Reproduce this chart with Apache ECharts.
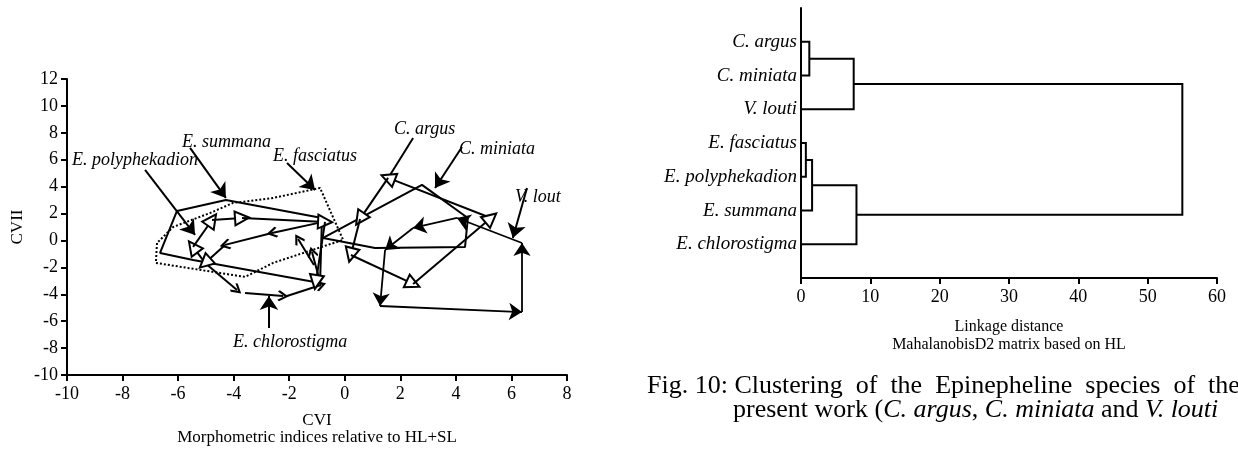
<!DOCTYPE html>
<html><head><meta charset="utf-8">
<script src="https://cdn.jsdelivr.net/npm/echarts@6/dist/echarts.min.js"></script>
<style>html,body{margin:0;padding:0;background:#fff}#c{width:1238px;height:454px}</style>
</head><body><div id="c"></div>
<script>
// ---------- Left panel: canonical variates (CVI x CVII) ----------
const cvXRange = [-10, 8];
const cvYRange = [-10, 12];
const cvStep = 2;

// convex hulls (closed)
const summanaHull = [[-6.04,2.19],[-4.28,3.01],[-0.82,1.67],[-0.89,-3.16],[-5.46,-1.45],[-6.65,-0.93],[-6.04,2.19]];
const fasciatusHull = [[-6.76,-0.19],[-6.80,-1.67],[-3.59,-2.71],[-2.58,-1.67],[-0.06,0.04],[-0.89,3.90],[-2.58,3.16],[-4.02,2.79],[-4.85,2.04],[-6.18,1.00],[-6.76,-0.19]];
const miniataHull = [[-0.78,0.19],[2.78,4.13],[4.43,1.67],[4.33,-0.48],[1.09,-0.56],[-0.78,0.19]];

// paths drawn as arrows [from, to]
const polyphekadionArrows = [
  [[-5.03,-1.67],[-5.46,-0.48]],
  [[-5.46,-0.48],[-4.78,1.52]],
  [[-4.78,1.52],[-3.70,1.67]],
  [[-3.70,1.67],[-0.71,1.38]],
  [[-0.71,1.38],[-1.04,-3.09]],
  [[-4.31,-0.33],[-5.03,-1.67]]
];
const chlorostigmaArrows = [
  [[-5.03,-1.67],[-3.88,-3.68]],
  [[-3.59,-3.90],[-2.22,-4.13]],
  [[-2.08,-4.13],[-0.86,-3.31]],
  [[-0.86,-3.31],[-1.18,-0.86]],
  [[-1.11,-1.82],[-1.68,0.11]],
  [[-0.78,1.38],[-2.62,0.56]],
  [[-2.62,0.56],[-4.31,-0.33]]
];
const argusArrows = [
  [[5.26,1.67],[1.56,4.65]],
  [[1.56,4.65],[0.55,1.60]],
  [[0.55,1.60],[0.22,-1.08]],
  [[0.22,-1.08],[2.46,-3.23]],
  [[2.46,-3.23],[5.26,1.67]]
];
const loutiArrows = [
  [[1.45,-0.71],[1.27,-4.87]],
  [[1.27,-4.87],[6.38,-5.32]],
  [[6.38,-5.32],[6.38,-0.19]],
  [[6.38,-0.19],[4.04,1.67]],
  [[4.04,1.67],[2.46,0.93]],
  [[2.46,0.93],[1.45,-0.71]]
];
// label pointers
const labelArrows = [
  [[-7.19,5.24],[-5.39,0.41]],
  [[-5.57,6.88],[-4.28,3.16]],
  [[-2.08,5.76],[-1.07,3.75]],
  [[-2.73,-6.51],[-2.73,-4.13]],
  [[4.22,6.95],[3.25,3.90]],
  [[6.56,3.90],[6.05,0.19]]
];
const argusPointer = [[[2.46,7.62],[1.63,4.87]]];

// ---------- Right panel: dendrogram ----------
const leafNames = ['C. argus','C. miniata','V. louti','E. fasciatus','E. polyphekadion','E. summana','E. chlorostigma'];
// [childA, childB, linkage distance]; nodes 0-6 leaves, 7.. merges in order
const merges = [[0,1,1.2],[3,4,0.7],[8,5,1.6],[7,2,7.6],[9,6,8.0],[10,11,55]];
const distRange = [0, 60];
const distStep = 10;

// ---------- build ----------
const FONT = '"Liberation Serif","Times New Roman",serif';
const nodes = leafNames.map((n,i)=>({h:0,y:i+1}));
const brackets = [];
merges.forEach(m=>{
  const a=nodes[m[0]], b=nodes[m[1]], h=m[2];
  brackets.push({coords:[[a.h,a.y],[h,a.y],[h,b.y],[b.h,b.y]]});
  nodes.push({h:h,y:(a.y+b.y)/2});
});
const seg = list => list.map(s=>({coords:s}));
const blackLine = w => ({color:'#000', width:w, opacity:1, curveness:0});
const chevron = 'path://M0,0 L10,10 L7.5,12 L0,4.5 L-7.5,12 L-10,10 Z';

function arrowSeries(data, sym, size, w, z){
  return {type:'lines', coordinateSystem:'cartesian2d', xAxisIndex:0, yAxisIndex:0,
    data: seg(data), symbol:['none', sym], symbolSize:size, lineStyle: blackLine(w), z:z, silent:true};
}
function hullSeries(data, dashed){
  return {type:'line', xAxisIndex:0, yAxisIndex:0, data:data, showSymbol:false, symbol:'none',
    lineStyle:{color:'#000', width: 2, type: dashed?[2,2]:'solid'}, z:2, silent:true};
}
const axisTxt = {color:'#000', fontFamily:FONT, fontSize:18};
const it = (t,l,tp)=>({type:'text', left:l, top:tp, style:{text:t, fill:'#000', font:'italic 18px '+FONT}});

const option = {
  animation:false,
  backgroundColor:'#fff',
  grid:[
    {left:67, top:79, width:500, height:296},
    {left:801, top:8, width:416, height:270}
  ],
  xAxis:[
    {gridIndex:0, type:'value', min:cvXRange[0], max:cvXRange[1], interval:cvStep,
     axisLine:{onZero:false, lineStyle:{color:'#000', width:2}},
     axisTick:{length:6, lineStyle:{color:'#000', width:2}},
     axisLabel:Object.assign({margin:10}, axisTxt), splitLine:{show:false},
     name:'CVI\nMorphometric indices relative to HL+SL', nameLocation:'middle', nameGap:37,
     nameTextStyle:{color:'#000', fontFamily:FONT, fontSize:17, lineHeight:17}},
    {gridIndex:1, type:'value', min:distRange[0], max:distRange[1], interval:distStep,
     axisLine:{onZero:false, lineStyle:{color:'#000', width:2}},
     axisTick:{length:6, lineStyle:{color:'#000', width:2}},
     axisLabel:Object.assign({margin:10}, axisTxt), splitLine:{show:false},
     name:'Linkage distance\nMahalanobisD2 matrix based on HL', nameLocation:'middle', nameGap:40,
     nameTextStyle:{color:'#000', fontFamily:FONT, fontSize:16, lineHeight:18}}
  ],
  yAxis:[
    {gridIndex:0, type:'value', min:cvYRange[0], max:cvYRange[1], interval:cvStep,
     axisLine:{onZero:false, lineStyle:{color:'#000', width:2}},
     axisTick:{length:6, lineStyle:{color:'#000', width:2}},
     axisLabel:Object.assign({margin:9}, axisTxt), splitLine:{show:false},
     name:'CVII', nameLocation:'middle', nameGap:41, nameRotate:90,
     nameTextStyle:{color:'#000', fontFamily:FONT, fontSize:17}},
    {gridIndex:1, type:'value', min:0, max:leafNames.length+1, interval:1, inverse:true,
     axisLine:{onZero:false, lineStyle:{color:'#000', width:2}},
     axisTick:{show:false}, splitLine:{show:false},
     axisLabel:{color:'#000', fontFamily:FONT, fontSize:19, fontStyle:'italic', margin:4,
       formatter:v=> (v>=1 && v<=leafNames.length) ? leafNames[v-1] : ''}}
  ],
  series:[
    hullSeries(fasciatusHull, true),
    hullSeries(summanaHull, false),
    hullSeries(miniataHull, false),
    arrowSeries(argusPointer, 'none', 1, 2, 3),
    arrowSeries(labelArrows, 'arrow', [10,14], 2, 4),
    arrowSeries(loutiArrows, 'arrow', [9,13], 1.8, 4),
    arrowSeries(chlorostigmaArrows, chevron, [16,11], 2, 5),
    arrowSeries(polyphekadionArrows, 'emptyTriangle', 14, 2, 6),
    arrowSeries(argusArrows, 'emptyTriangle', 14, 2, 6),
    {type:'lines', coordinateSystem:'cartesian2d', xAxisIndex:1, yAxisIndex:1, polyline:true,
     data:brackets, lineStyle:blackLine(2), silent:true, z:3}
  ],
  graphic:[
    it('E. polyphekadion', 72, 151),
    it('E. summana', 182, 133),
    it('E. fasciatus', 273, 147),
    it('C. argus', 394, 120),
    it('C. miniata', 459, 140),
    it('V. lout', 515, 188),
    it('E. chlorostigma', 233, 333),
    {type:'text', left:647, top:373, style:{text:'Fig. 10: Clustering  of  the  Epinepheline  species  of  the', fill:'#000', font:'26px '+FONT}},
    {type:'text', left:733, top:397, style:{
      text:'{n|present work (}{i|C. argus}{n|, }{i|C. miniata}{n| and }{i|V. louti}',
      rich:{n:{fontFamily:FONT, fontSize:26, fill:'#000'}, i:{fontFamily:FONT, fontSize:26, fontStyle:'italic', fill:'#000'}}}}
  ]
};
const chart = echarts.init(document.getElementById('c'));
chart.setOption(option);
</script></body></html>
